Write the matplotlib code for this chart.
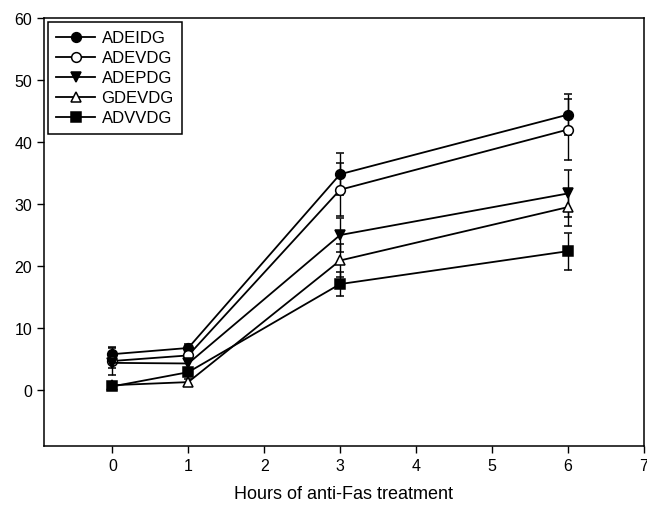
import matplotlib
matplotlib.use("Agg")
import matplotlib.pyplot as plt

plt.rcParams['font.family'] = ['Liberation Sans', 'DejaVu Sans']

hours = [0, 1, 3, 6]
labels = ["ADEIDG", "ADEVDG", "ADEPDG", "GDEVDG", "ADVVDG"]
adeidg = [5.8, 6.8, 34.8, 44.4]
adeidg_err = [1.0, 0.6, 3.4, 3.3]
adevdg = [4.7, 5.6, 32.3, 42.0]
adevdg_err = [2.2, 0.8, 4.3, 4.9]
adepdg = [4.4, 4.3, 25.0, 31.7]
adepdg_err = [0.8, 0.7, 2.7, 3.8]
gdevdg = [0.8, 1.3, 20.9, 29.5]
gdevdg_err = [0.4, 0.5, 2.6, 3.0]
advvdg = [0.6, 2.9, 17.1, 22.4]
advvdg_err = [0.4, 0.6, 1.9, 3.0]

series = [adeidg, adevdg, adepdg, gdevdg, advvdg]
errors = [adeidg_err, adevdg_err, adepdg_err, gdevdg_err, advvdg_err]
# marker, face colour
styles = [("o", "black"), ("o", "white"), ("v", "black"), ("^", "white"), ("s", "black")]

fig = plt.figure(figsize=(6.47, 5.10), dpi=100)
ax = fig.add_axes([0.068, 0.1235, 0.927, 0.8395])

handles = []
for lab, ys, es, (m, fc) in zip(labels, series, errors, styles):
    cont = ax.errorbar(hours, ys, yerr=es, color="black", lw=1.3, elinewidth=1.0,
                       capsize=3, capthick=1.0, marker=m, markersize=7,
                       markerfacecolor=fc, markeredgecolor="black", markeredgewidth=1.1,
                       label=lab)
    handles.append(cont[0])

ax.set_xlim(-0.9, 7)
ax.set_ylim(-9, 60)
ax.set_xticks(range(0, 8))
ax.set_yticks(range(0, 61, 10))
ax.tick_params(direction="out", length=5, width=1, labelsize=11.5, colors="black")
for s in ax.spines.values():
    s.set_linewidth(1.1)
ax.set_xlabel("Hours of anti-Fas treatment", fontsize=13, labelpad=9)

leg = ax.legend(handles, labels, loc="upper left", fontsize=12, handlelength=2.3,
                labelspacing=0.3, borderaxespad=0.25, fancybox=False, framealpha=1,
                handletextpad=0.4, borderpad=0.5)
leg.get_frame().set_edgecolor("black")
leg.get_frame().set_linewidth(1.1)

fig.savefig("out.png", dpi=100)
